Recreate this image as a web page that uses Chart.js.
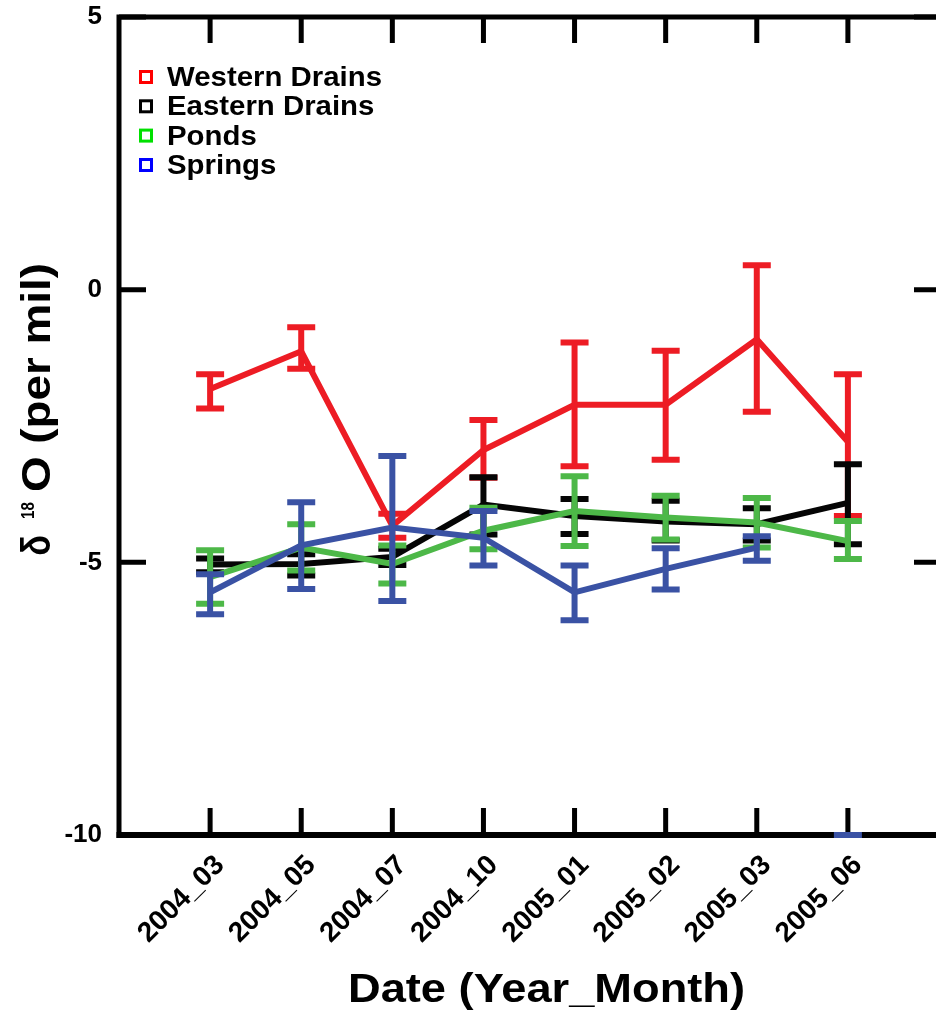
<!DOCTYPE html>
<html><head><meta charset="utf-8">
<script src="https://cdn.jsdelivr.net/npm/chart.js@4.4.1/dist/chart.umd.min.js"></script>
<style>html,body{margin:0;padding:0;background:#fff;overflow:hidden}
#wrap{width:945px;height:1021px;position:relative}</style></head>
<body><div id="wrap"><canvas id="c"></canvas></div>
<script>
const categories = ['2004_03','2004_05','2004_07','2004_10','2005_01','2005_02','2005_03','2005_06'];
const xPositions = [1,2,3,4,5,6,7,8];
const yTickValues = [5,0,-5,-10];

const westernVal = [-1.82,-1.13,-4.33,-2.94,-2.11,-2.11,-0.91,-2.79];
const westernHi  = [-1.55,-0.69,-4.11,-2.39,-0.97,-1.12, 0.45,-1.55];
const westernLo  = [-2.18,-1.45,-4.55,-3.45,-3.24,-3.12,-2.24,-4.15];

const easternVal = [-5.04,-5.03,-4.90,-3.94,-4.15,-4.25,-4.30,-3.91];
const easternHi  = [-4.93,-4.85,-4.75,-3.44,-3.84,-3.87,-4.01,-3.20];
const easternLo  = [-5.18,-5.24,-5.05,-4.49,-4.48,-4.60,-4.60,-4.67];

const pondsVal = [-5.27,-4.73,-5.03,-4.42,-4.06,-4.18,-4.27,-4.61];
const pondsHi  = [-4.78,-4.30,-4.69,-4.00,-3.42,-3.78,-3.82,-4.24];
const pondsLo  = [-5.76,-5.15,-5.39,-4.76,-4.70,-4.58,-4.73,-4.94];

const springsVal = [-5.55,-4.69,-4.36,-4.55,-5.55,-5.12,-4.73,null];
const springsHi  = [-5.22,-3.90,-3.05,-4.06,-5.06,-4.74,-4.52,-10];
const springsLo  = [-5.95,-5.49,-5.71,-5.06,-6.06,-5.50,-4.97,-10];

const seriesNames = ['Western Drains','Eastern Drains','Ponds','Springs'];
const lineColors = ['#ED1C24','#050505','#4DB848','#3A52A4'];
const legendColors = ['#FF0000','#000000','#00E000','#0000FF'];

const FONT = '"Liberation Sans", Arial, Helvetica, sans-serif';
const errs = [[westernHi,westernLo],[easternHi,easternLo],[pondsHi,pondsLo],[springsHi,springsLo]];
const vals = [westernVal,easternVal,pondsVal,springsVal];

function pts(arr){ return xPositions.map((x,i)=>({x:x,y:arr[i]})); }

function drawStretched(ctx, text, x, y, targetW, font){
  ctx.font = font;
  const w = ctx.measureText(text).width;
  const s = targetW / w;
  ctx.save(); ctx.translate(x,y); ctx.scale(s,1); ctx.fillText(text,0,0); ctx.restore();
  return s;
}

const framePlugin = {
  id:'frame',
  beforeDatasetsDraw(chart){
    const {ctx, chartArea:a, scales:{x,y}} = chart;
    ctx.save();
    ctx.strokeStyle='#000'; ctx.lineCap='butt';
    ctx.lineWidth=5;
    ctx.beginPath();
    ctx.moveTo(a.left, a.top); ctx.lineTo(a.right, a.top);
    ctx.moveTo(a.left, a.top-2.5); ctx.lineTo(a.left, a.bottom+3);
    ctx.moveTo(a.right, a.top-2.5); ctx.lineTo(a.right, a.bottom+3);
    ctx.stroke();
    ctx.lineWidth=6;
    ctx.beginPath(); ctx.moveTo(a.left-2.5, a.bottom); ctx.lineTo(a.right+2.5, a.bottom); ctx.stroke();
    ctx.lineWidth=5;
    ctx.beginPath();
    xPositions.forEach(v=>{
      const px = x.getPixelForValue(v);
      ctx.moveTo(px, a.top); ctx.lineTo(px, a.top+26);
      ctx.moveTo(px, a.bottom); ctx.lineTo(px, a.bottom-27);
    });
    yTickValues.forEach(v=>{
      const py = y.getPixelForValue(v);
      ctx.moveTo(a.left, py); ctx.lineTo(a.left+27, py);
      ctx.moveTo(a.right, py); ctx.lineTo(a.right-25, py);
    });
    ctx.stroke();
    ctx.restore();
  },
  afterDatasetDraw(chart, args){
    const i = args.index;
    const {ctx, scales:{x,y}} = chart;
    const [hi, lo] = errs[i];
    ctx.save();
    ctx.strokeStyle = lineColors[i]; ctx.lineCap='butt';
    xPositions.forEach((xv,k)=>{
      if (hi[k]==null || lo[k]==null) return;
      const px = x.getPixelForValue(xv);
      const y1 = y.getPixelForValue(hi[k]);
      const y2 = y.getPixelForValue(lo[k]);
      ctx.lineWidth=6;
      ctx.beginPath(); ctx.moveTo(px,y1); ctx.lineTo(px,y2); ctx.stroke();
      ctx.lineWidth=6;
      ctx.beginPath();
      ctx.moveTo(px-14,y1); ctx.lineTo(px+14,y1);
      ctx.moveTo(px-14,y2); ctx.lineTo(px+14,y2);
      ctx.stroke();
    });
    ctx.restore();
  },
  afterDraw(chart){
    const {ctx} = chart;
    ctx.save();
    ctx.fillStyle='#000';
    ctx.textBaseline='alphabetic'; ctx.textAlign='left';
    const lf = 'bold 27px '+FONT;
    ctx.font = lf;
    const s = 215/ctx.measureText(seriesNames[0]).width;
    const rowsY = [86, 115.3, 144.6, 174];
    seriesNames.forEach((n,k)=>{
      ctx.strokeStyle = legendColors[k]; ctx.lineWidth=3;
      ctx.strokeRect(140.5, rowsY[k]-14.5, 11, 11);
      ctx.save(); ctx.translate(167, rowsY[k]); ctx.scale(s,1); ctx.font=lf; ctx.fillText(n,0,0); ctx.restore();
    });
    drawStretched(ctx, 'Date (Year_Month)', 348, 1002, 397, 'bold 40px '+FONT);
    ctx.save();
    ctx.translate(0,555); ctx.rotate(-Math.PI/2);
    ctx.font = 'bold 40px '+FONT;
    let w = ctx.measureText('\u03B4').width;
    ctx.save(); ctx.translate(0, 50); ctx.scale(18/w*1.15,1); ctx.fillText('\u03B4',-1,0); ctx.restore();
    ctx.font = 'bold 18px '+FONT;
    w = ctx.measureText('18').width;
    ctx.save(); ctx.translate(36, 33.5); ctx.scale(16/w*1.05,1); ctx.fillText('18',0,0); ctx.restore();
    ctx.font = 'bold 41px '+FONT;
    w = ctx.measureText('O (per mil)').width;
    ctx.save(); ctx.translate(63, 50); ctx.scale(229/w,1); ctx.fillText('O (per mil)',0,0); ctx.restore();
    ctx.restore();
    ctx.restore();
  }
};

const datasets = seriesNames.map((n,k)=>({
  label:n, data:pts(vals[k]), borderColor:lineColors[k], backgroundColor:lineColors[k],
  borderWidth:6, pointRadius:0, pointHoverRadius:0, tension:0, spanGaps:false,
  order: 4-k, clip:false
}));

new Chart(document.getElementById('c'), {
  type:'line',
  data:{datasets},
  options:{
    responsive:true, maintainAspectRatio:false, animation:false,
    events:[],
    layout:{padding:{top:17, right:6, left:0, bottom:0}},
    plugins:{legend:{display:false}, tooltip:{enabled:false}, title:{display:false}},
    scales:{
      x:{type:'linear', min:0, max:9,
        afterBuildTicks(sc){ sc.ticks = xPositions.map(v=>({value:v})); },
        afterFit(sc){ sc.height = 186; sc.paddingLeft = 0; sc.paddingRight = 0; },
        grid:{display:false, drawTicks:false}, border:{display:false},
        ticks:{autoSkip:false, minRotation:45, maxRotation:45, padding:14, labelOffset:10, color:'#000',
          font:{family:FONT, size:28, weight:'bold'},
          callback:(v)=>{ const i = xPositions.indexOf(v); return i>=0?categories[i]:''; }}
      },
      y:{type:'linear', min:-10, max:5,
        afterBuildTicks(sc){ sc.ticks = yTickValues.map(v=>({value:v})); },
        afterFit(sc){ sc.width = 119; sc.paddingTop = 0; sc.paddingBottom = 0; },
        grid:{display:false, drawTicks:false}, border:{display:false},
        ticks:{padding:17, color:'#000', font:{family:FONT, size:26, weight:'bold'}}
      }
    }
  },
  plugins:[framePlugin]
});
</script></body></html>
